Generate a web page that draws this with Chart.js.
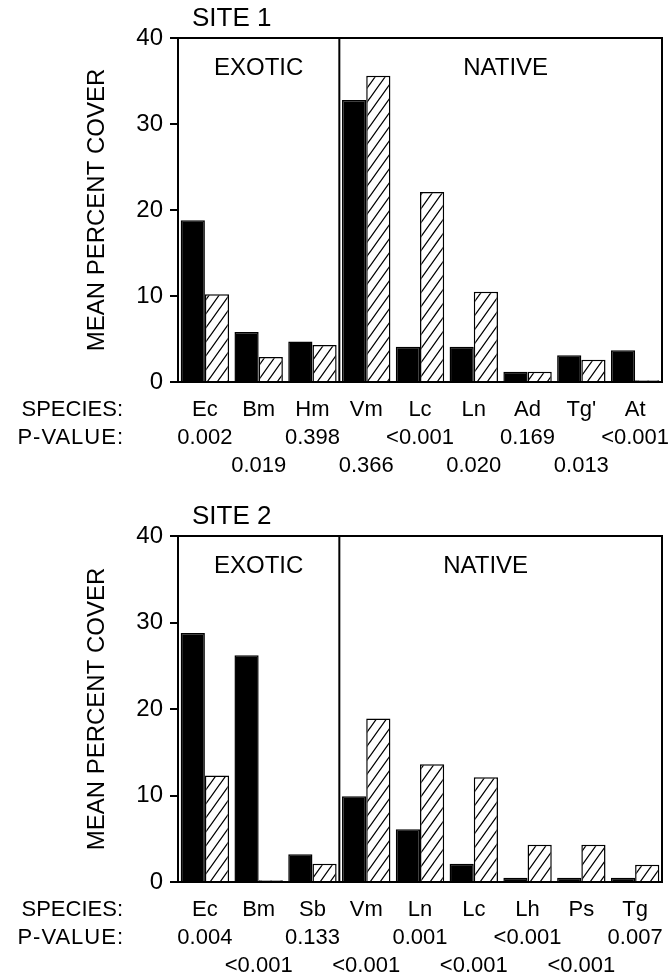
<!DOCTYPE html>
<html>
<head>
<meta charset="utf-8">
<script src="https://cdn.jsdelivr.net/npm/chart.js@4.4.1/dist/chart.umd.min.js"></script>
<style>
  body { margin: 0; background: #fff; }
  canvas { display: block; }
</style>
</head>
<body>
<canvas id="site1" width="671" height="490"></canvas>
<canvas id="site2" width="671" height="490"></canvas>
<script>
// values (mean percent cover)
const yTicks = [0, 10, 20, 30, 40];

const site1Species = ['Ec', 'Bm', 'Hm', 'Vm', 'Lc', 'Ln', 'Ad', "Tg'", 'At'];
const site1P = ['0.002', '0.019', '0.398', '0.366', '<0.001', '0.020', '0.169', '0.013', '<0.001'];
const site1Solid = [18.8, 5.8, 4.7, 32.8, 4.1, 4.1, 1.2, 3.1, 3.7];
const site1Hatched = [10.2, 2.9, 4.3, 35.6, 22.1, 10.5, 1.2, 2.6, 0.2];

const site2Species = ['Ec', 'Bm', 'Sb', 'Vm', 'Ln', 'Lc', 'Lh', 'Ps', 'Tg'];
const site2P = ['0.004', '<0.001', '0.133', '<0.001', '0.001', '<0.001', '<0.001', '<0.001', '0.007'];
const site2Solid = [28.8, 26.2, 3.2, 9.9, 6.1, 2.1, 0.5, 0.5, 0.5];
const site2Hatched = [12.3, 0.2, 2.1, 18.9, 13.6, 12.1, 4.3, 4.3, 2.0];

const FONT = '"Liberation Sans", Arial, Helvetica, sans-serif';

// diagonal hatch fill
function hatch() {
  const c = document.createElement('canvas');
  c.width = 10; c.height = 14;
  const g = c.getContext('2d');
  g.fillStyle = '#fff';
  g.fillRect(0, 0, 10, 14);
  g.strokeStyle = '#000';
  g.lineWidth = 1.3;
  g.beginPath();
  g.moveTo(-1, 15.4); g.lineTo(11, -1.4);
  g.moveTo(-11, 15.4); g.lineTo(1, -1.4);
  g.moveTo(9, 15.4); g.lineTo(21, -1.4);
  g.stroke();
  return g.createPattern(c, 'repeat');
}

// frame, divider, group names, row captions
const decor = {
  id: 'decor',
  afterDraw(chart, args, o) {
    const { ctx, chartArea: a, scales: { x } } = chart;
    const mid = (x.getPixelForValue(2) + x.getPixelForValue(3)) / 2;
    ctx.save();
    ctx.strokeStyle = '#000';
    ctx.lineWidth = 2;
    ctx.beginPath();
    ctx.moveTo(a.left, a.top);
    ctx.lineTo(a.right, a.top);
    ctx.lineTo(a.right, a.bottom);
    ctx.moveTo(mid, a.top);
    ctx.lineTo(mid, a.bottom);
    ctx.stroke();

    ctx.fillStyle = '#000';
    ctx.textBaseline = 'middle';
    ctx.textAlign = 'center';
    ctx.font = '24px ' + FONT;
    ctx.fillText('EXOTIC', (a.left + mid) / 2, a.top + 30);
    ctx.fillText('NATIVE', (mid + a.right) / 2 + o.nativeShift, a.top + 30);

    ctx.textAlign = 'left';
    ctx.font = '26px ' + FONT;
    ctx.fillText(o.site, 192, a.top - 19);

    ctx.textAlign = 'right';
    ctx.font = '22px ' + FONT;
    ctx.fillText('SPECIES:', 123, a.bottom + 28);
    ctx.letterSpacing = '1px';
    ctx.fillText('P-VALUE:', 124, a.bottom + 56);
    ctx.restore();
  }
};

function makeChart(id, site, species, pvals, solid, hatched, top, axisH, nativeShift) {
  // p-values alternate between two rows under the species codes
  const labels = species.map((s, i) => i % 2 === 0 ? [s, pvals[i], ''] : [s, '', pvals[i]]);
  return new Chart(document.getElementById(id), {
    type: 'bar',
    data: {
      labels: labels,
      datasets: [{
        label: 'Solid',
        data: solid,
        backgroundColor: '#000',
        borderColor: '#000',
        borderWidth: 1.5,
        categoryPercentage: 0.9,
        barPercentage: 1.0
      }, {
        label: 'Hatched',
        data: hatched,
        backgroundColor: hatch(),
        borderColor: '#000',
        borderWidth: 1.5,
        categoryPercentage: 0.9,
        barPercentage: 1.0
      }]
    },
    options: {
      responsive: false,
      animation: false,
      devicePixelRatio: 1,
      layout: { padding: { top: top, right: 9, left: 0, bottom: 0 } },
      plugins: {
        legend: { display: false },
        tooltip: { enabled: false },
        decor: { site: site, nativeShift: nativeShift }
      },
      scales: {
        x: {
          grid: { display: false, drawTicks: false },
          border: { display: true, color: '#000', width: 2 },
          ticks: {
            autoSkip: false,
            maxRotation: 0,
            color: '#000',
            padding: 14,
            font: { family: FONT, size: 22, lineHeight: 28 / 22 }
          },
          afterFit(s) { s.height = axisH; s.paddingLeft = 0; s.paddingRight = 0; }
        },
        y: {
          min: 0,
          max: 40,
          afterBuildTicks(s) { s.ticks = yTicks.map(v => ({ value: v })); },
          grid: { display: true, drawOnChartArea: false, drawTicks: true, tickLength: 8, color: '#000', lineWidth: 2 },
          border: { display: true, color: '#000', width: 2 },
          ticks: {
            color: '#000',
            padding: 7,
            font: { family: FONT, size: 24 }
          },
          title: {
            display: true,
            text: 'MEAN PERCENT COVER',
            color: '#000',
            font: { family: FONT, size: 24 },
            padding: { top: 83, bottom: 0 }
          },
          afterFit(s) { s.width = 178; s.paddingTop = 0; s.paddingBottom = 0; }
        }
      }
    },
    plugins: [decor]
  });
}

makeChart('site1', 'SITE 1', site1Species, site1P, site1Solid, site1Hatched, 38, 108, 5);
makeChart('site2', 'SITE 2', site2Species, site2P, site2Solid, site2Hatched, 46, 98, -15);
</script>
</body>
</html>
